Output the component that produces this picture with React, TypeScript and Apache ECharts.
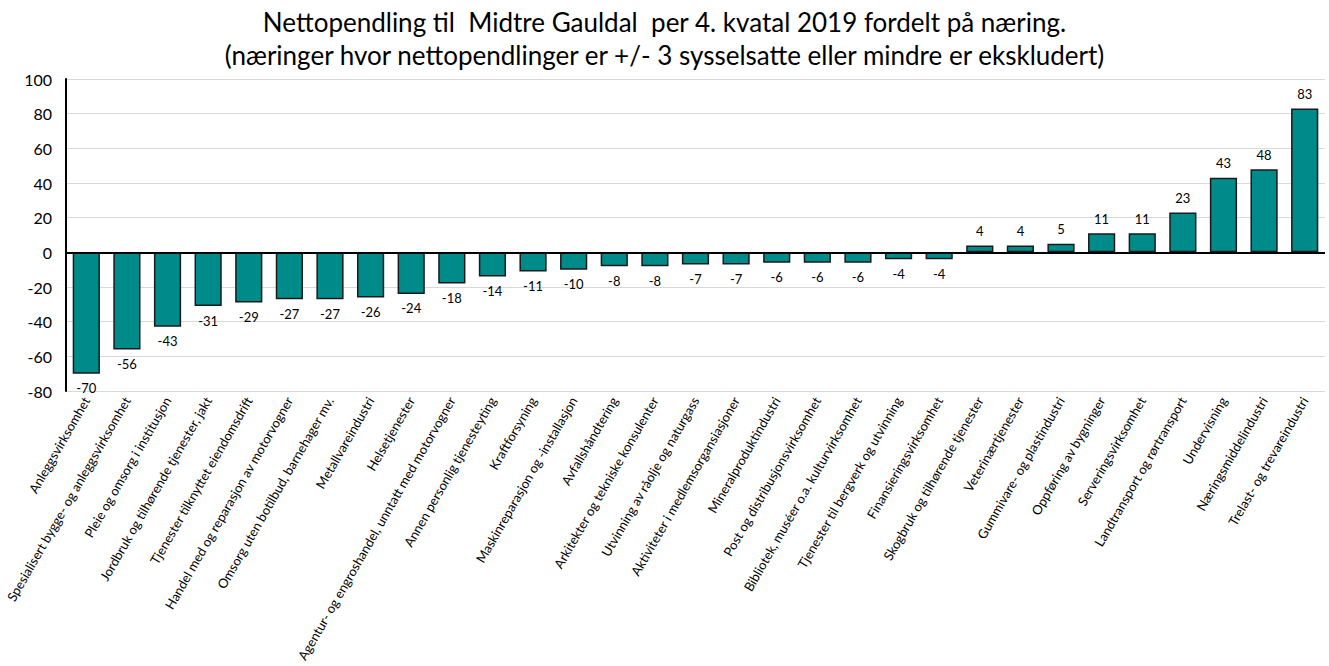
import React, { useEffect, useRef } from "react";
import * as echarts from "echarts";

const titleLine1 = "Nettopendling til  Midtre Gauldal  per 4. kvatal 2019 fordelt på næring.";
const titleLine2 = "(næringer hvor nettopendlinger er +/- 3 sysselsatte eller mindre er ekskludert)";

const categories = [
  "Anleggsvirksomhet",
  "Spesialisert bygge- og anleggsvirksomhet",
  "Pleie og omsorg i institusjon",
  "Jordbruk og tilhørende tjenester, jakt",
  "Tjenester tilknyttet eiendomsdrift",
  "Handel med og reparasjon av motorvogner",
  "Omsorg uten botilbud, barnehager mv.",
  "Metallvareindustri",
  "Helsetjenester",
  "Agentur- og engroshandel, unntatt med motorvogner",
  "Annen personlig tjenesteyting",
  "Kraftforsyning",
  "Maskinreparasjon og -installasjon",
  "Avfallshåndtering",
  "Arkitekter og tekniske konsulenter",
  "Utvinning av råolje og naturgass",
  "Aktiviteter i medlemsorgansiasjoner",
  "Mineralproduktindustri",
  "Post og distribusjonsvirksomhet",
  "Bibliotek, muséer o.a. kulturvirksomhet",
  "Tjenester til bergverk og utvinning",
  "Finansieringsvirksomhet",
  "Skogbruk og tilhørende tjenester",
  "Veterinærtjenester",
  "Gummivare- og plastindustri",
  "Oppføring av bygninger",
  "Serveringsvirksomhet",
  "Landtransport og rørtransport",
  "Undervisning",
  "Næringsmiddelindustri",
  "Trelast- og trevareindustri",
];

const values = [
  -70, -56, -43, -31, -29, -27, -27, -26, -24, -18, -14, -11, -10, -8, -8, -7,
  -7, -6, -6, -6, -4, -4, 4, 4, 5, 11, 11, 23, 43, 48, 83,
];

const yMin = -80;
const yMax = 100;
const yStep = 20;

const FONT = "Lato, 'Open Sans', sans-serif";

export default function App() {
  const ref = useRef<HTMLDivElement>(null);
  useEffect(() => {
    if (!ref.current) return;
    const chart = echarts.init(ref.current, undefined, { renderer: "svg" });
    chart.setOption({
      animation: false,
      backgroundColor: "#ffffff",
      title: {
        text: titleLine1 + "\n" + titleLine2,
        left: "center",
        top: 0,
        textStyle: {
          fontFamily: FONT,
          fontSize: 26,
          fontWeight: "normal",
          color: "#000",
          lineHeight: 33,
        },
      },
      grid: {
        left: 66,
        right: 4,
        top: 79,
        bottom: 275,
        containLabel: false,
        outerBoundsMode: "none",
      },
      xAxis: {
        type: "category",
        data: categories,
        axisLine: { show: false, onZero: false },
        axisTick: { show: false },
        axisLabel: {
          interval: 0,
          rotate: 60,
          margin: 7,
          fontFamily: FONT,
          fontSize: 13,
          color: "#000",
        },
      },
      yAxis: {
        type: "value",
        min: yMin,
        max: yMax,
        interval: yStep,
        axisLine: { show: true, lineStyle: { color: "#000", width: 2 } },
        axisTick: { show: false },
        splitLine: { show: true, lineStyle: { color: "#d9d9d9", width: 1 } },
        axisLabel: { fontFamily: FONT, fontSize: 16, color: "#000", margin: 14 },
      },
      series: [
        {
          type: "bar",
          barCategoryGap: "33%",
          data: values.map((v) => ({
            value: v,
            label: { position: v < 0 ? "bottom" : "top" },
          })),
          itemStyle: { color: "#008b8b", borderColor: "#1a1a1a", borderWidth: 1.5 },
          label: {
            show: true,
            distance: 8,
            fontFamily: FONT,
            fontSize: 13,
            color: "#000",
          },
          markLine: {
            silent: true,
            symbol: "none",
            label: { show: false },
            lineStyle: { color: "#000", width: 2, type: "solid" },
            data: [{ yAxis: 0 }],
          },
        },
      ],
    });
    return () => chart.dispose();
  }, []);
  return (
    <div
      ref={ref}
      style={{ position: "fixed", left: 0, top: 0, width: 1329, height: 666 }}
    />
  );
}
